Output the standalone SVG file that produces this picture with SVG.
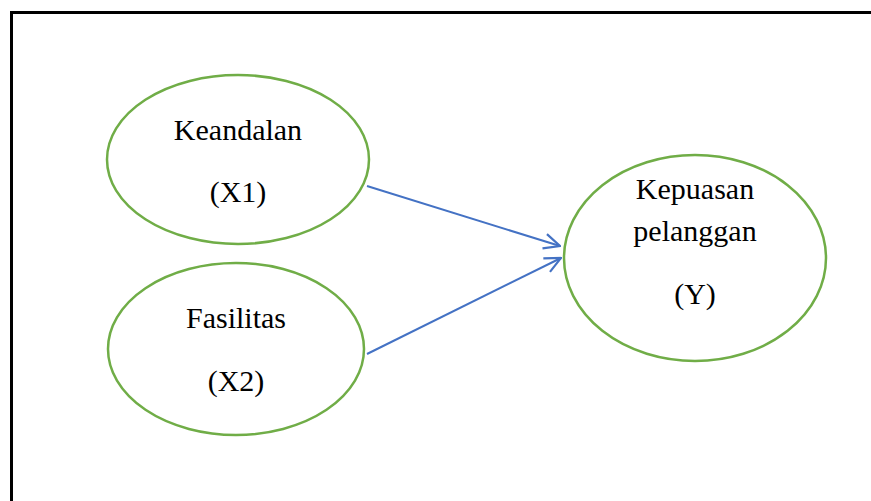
<svg xmlns="http://www.w3.org/2000/svg" width="871" height="501" viewBox="0 0 871 501">
<style>
.node{fill:#fff;stroke:#70AD47;stroke-width:2.5}
.lbl{font-family:"Liberation Serif","Times New Roman",serif;font-size:30px;fill:#000;text-anchor:middle}
.edge{stroke:#4472C4;stroke-width:2;fill:none;marker-end:url(#arr)}
</style>
<defs>
<marker id="arr" viewBox="0 0 18 18" refX="17" refY="9" markerWidth="18" markerHeight="18" markerUnits="userSpaceOnUse" orient="auto">
<path d="M1,1.5 L17,9 L1,16.5" fill="none" stroke="#4472C4" stroke-width="2.2"/>
</marker>
</defs>
<rect x="0" y="0" width="871" height="501" fill="#fff"/>
<path d="M11.5,501 V12.5 H871" fill="none" stroke="#000" stroke-width="3"/>
<g id="connectors">
<line class="edge" x1="367" y1="186" x2="560" y2="246"/>
<line class="edge" x1="367" y1="354" x2="561" y2="258"/>
</g>
<g id="keandalan">
<ellipse class="node" cx="238" cy="159.5" rx="131" ry="84.5"/>
<text class="lbl" x="238" y="140">Keandalan</text>
<text class="lbl" x="238" y="202">(X1)</text>
</g>
<g id="fasilitas">
<ellipse class="node" cx="236" cy="349" rx="128" ry="86"/>
<text class="lbl" x="236" y="328">Fasilitas</text>
<text class="lbl" x="236" y="391">(X2)</text>
</g>
<g id="kepuasan">
<ellipse class="node" cx="695" cy="258" rx="131" ry="103"/>
<text class="lbl" x="695" y="199">Kepuasan</text>
<text class="lbl" x="695" y="241">pelanggan</text>
<text class="lbl" x="695" y="304">(Y)</text>
</g>
</svg>
